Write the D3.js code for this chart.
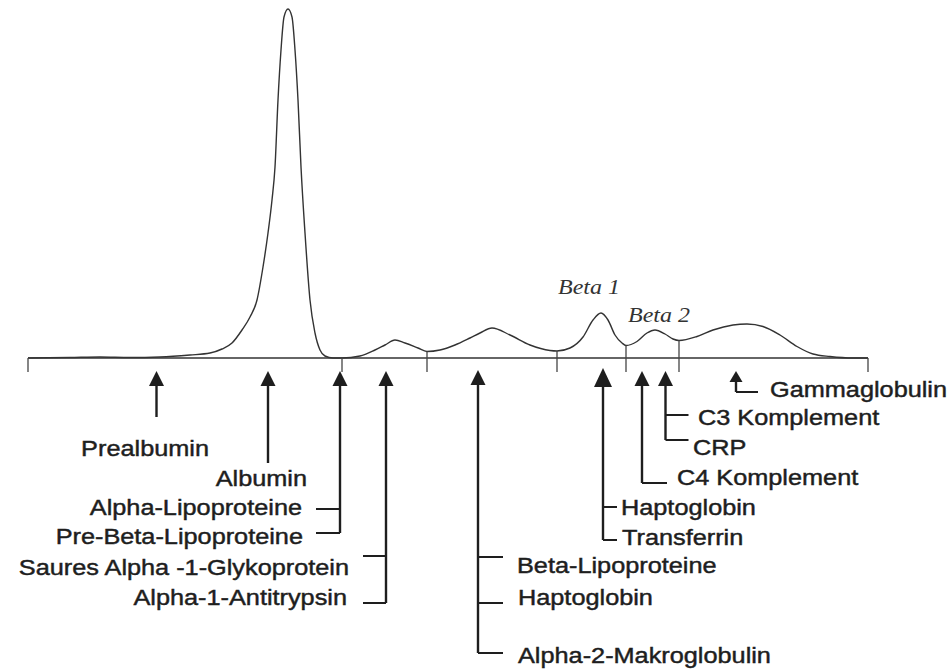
<!DOCTYPE html>
<html>
<head>
<meta charset="utf-8">
<script src="https://cdn.jsdelivr.net/npm/d3@7"></script>
<style>
  body { margin: 0; background: #fff; }
  svg { display: block; }
</style>
</head>
<body>
<script>
// densitogram of the serum electrophoresis (migration distance vs. absorbance)
var curvePos  = [0, 42, 72, 102, 132, 162, 182, 194, 204, 214, 222, 229, 235, 240, 244, 247, 250, 253, 256, 260,
                 264, 267, 270, 273, 277, 282, 287, 292, 297, 305, 314, 332, 347, 357, 367, 377, 390, 399, 412, 427,
                 442, 452, 464, 482, 502, 522, 529, 542, 555, 565, 573, 580, 587, 594, 598, 609, 619, 627, 637, 645,
                 651, 669, 685, 705, 719, 735, 752, 769, 785, 802, 825, 840];
var curveDens = [0, 0.5, 1, 0.5, 1, 3, 5, 9, 15, 28, 41, 58, 91, 125, 158, 191, 258, 308, 341, 349,
                 341, 308, 258, 191, 125, 58, 25, 8, 2, 0, 0, 2, 8, 13, 18, 15, 10, 6.5, 8, 13,
                 20, 25, 30, 23, 13, 7.5, 7, 10, 21, 38, 45, 38, 23, 15, 12.5, 16.5, 25, 28, 24, 19,
                 17.5, 21.5, 28, 33, 34, 31.5, 23, 11.5, 4, 1.5, 0, 0];

// fraction borders on the baseline
var dividerPos = [0, 314, 399, 529, 598, 651, 840];

// arrows for the single proteins
var arrowPos = [128.5, 240, 312, 358, 450, 575, 614, 637.5, 708];
var arrowLabels = [
  ["Prealbumin"],
  ["Albumin"],
  ["Alpha-Lipoproteine", "Pre-Beta-Lipoproteine"],
  ["Saures Alpha -1-Glykoprotein", "Alpha-1-Antitrypsin"],
  ["Beta-Lipoproteine", "Haptoglobin", "Alpha-2-Makroglobulin"],
  ["Haptoglobin", "Transferrin"],
  ["C4 Komplement"],
  ["C3 Komplement", "CRP"],
  ["Gammaglobulin"]
];

// handwritten notes above the beta peaks
var noteLabels = ["Beta 1", "Beta 2"];

var width = 952;
var height = 671;

// how the arrows are drawn (pixels)
var arrowLayout = [
  { top: 371, end: 417, side: 0, branches: [], labels: [[209, 456]] },
  { top: 371, end: 463, side: 0, branches: [], labels: [[307, 486]] },
  { top: 371, end: 533, side: -1, len: 24, branches: [509, 533], labels: [[302, 515], [303, 544]] },
  { top: 371, end: 603, side: -1, len: 23, branches: [556, 603], labels: [[349, 575], [347, 605]] },
  { top: 370, end: 653, side: 1, len: 25, branches: [557, 603, 653], labels: [[517, 573], [518, 605], [518, 663]] },
  { top: 368, hw: 18, hh: 19, end: 540, side: 1, len: 14, branches: [507, 540], labels: [[621, 515], [622, 545]] },
  { top: 371, end: 483, side: 1, len: 25, branches: [483], labels: [[677, 485]] },
  { top: 371, end: 440, side: 1, len: 23, branches: [415, 440], labels: [[698, 425], [693, 455]] },
  { top: 371, hw: 13, hh: 11, end: 392, side: 1, len: 22, branches: [392], labels: [[770, 397]] }
];
var noteLayout = [[558, 294], [628, 322]];

var ink = "#1e1e1e";
var textStretch = 1.15;

var svg = d3.select("body").append("svg")
  .attr("width", width)
  .attr("height", height);

var x = d3.scaleLinear().domain([0, 840]).range([28, 868]);
var y = d3.scaleLinear().domain([0, 350]).range([358, 8]);

var curveData = curvePos.map(function (p, i) { return { pos: p, dens: curveDens[i] }; });

// baseline
svg.append("line")
  .attr("x1", x(0)).attr("x2", x(840))
  .attr("y1", y(0)).attr("y2", y(0))
  .style("stroke", "#333")
  .style("stroke-width", 1.3);

// the curve itself
var line = d3.line()
  .x(function (d) { return x(d.pos); })
  .y(function (d) { return y(d.dens); })
  .curve(d3.curveMonotoneX);

svg.append("path")
  .datum(curveData)
  .attr("d", line)
  .style("fill", "none")
  .style("stroke", "#333")
  .style("stroke-width", 1.4);

// fraction borders: from the curve down below the baseline
svg.selectAll(".divider")
  .data(dividerPos)
  .enter().append("line")
  .attr("class", "divider")
  .attr("x1", function (d) { return x(d); })
  .attr("x2", function (d) { return x(d); })
  .attr("y1", function (d) {
    var pt = curveData.find(function (c) { return c.pos === d; });
    return y(pt ? pt.dens : 0);
  })
  .attr("y2", y(0) + 14)
  .style("stroke", "#444")
  .style("stroke-width", 1.3);

// arrows with their labels
var arrows = svg.selectAll(".arrow")
  .data(arrowPos.map(function (p, i) { return { pos: p, names: arrowLabels[i], lay: arrowLayout[i] }; }))
  .enter().append("g")
  .attr("class", "arrow");

arrows.append("path")
  .attr("d", function (d) {
    var cx = x(d.pos), hw = (d.lay.hw || 15) / 2, hh = d.lay.hh || 15;
    return "M" + cx + "," + d.lay.top + "L" + (cx + hw) + "," + (d.lay.top + hh) +
      "L" + (cx - hw) + "," + (d.lay.top + hh) + "Z";
  })
  .style("fill", ink);

arrows.append("line")
  .attr("x1", function (d) { return x(d.pos); })
  .attr("x2", function (d) { return x(d.pos); })
  .attr("y1", function (d) { return d.lay.top + 8; })
  .attr("y2", function (d) { return d.lay.end; })
  .style("stroke", ink)
  .style("stroke-width", 2.4);

arrows.each(function (d) {
  var g = d3.select(this);
  var cx = x(d.pos);
  d.lay.branches.forEach(function (by) {
    g.append("line")
      .attr("x1", cx).attr("x2", cx + d.lay.side * d.lay.len)
      .attr("y1", by).attr("y2", by)
      .style("stroke", ink)
      .style("stroke-width", 2);
  });
  d.names.forEach(function (name, i) {
    var p = d.lay.labels[i];
    g.append("text")
      .attr("transform", "translate(" + p[0] + "," + p[1] + ") scale(" + textStretch + ",1)")
      .attr("text-anchor", d.lay.side === 1 ? "start" : "end")
      .style("font-family", "'Liberation Sans', Arial, sans-serif")
      .style("font-size", "22px")
      .style("fill", ink)
      .style("stroke", ink)
      .style("stroke-width", 0.45)
      .text(name);
  });
});

// handwritten Beta 1 / Beta 2
svg.selectAll(".note")
  .data(noteLabels)
  .enter().append("text")
  .attr("class", "note")
  .attr("transform", function (d, i) {
    return "translate(" + noteLayout[i][0] + "," + noteLayout[i][1] + ") scale(1.2,1)";
  })
  .style("font-family", "'Liberation Serif', serif")
  .style("font-style", "italic")
  .style("font-size", "20px")
  .style("fill", "#333")
  .text(function (d) { return d; });
</script>
</body>
</html>
